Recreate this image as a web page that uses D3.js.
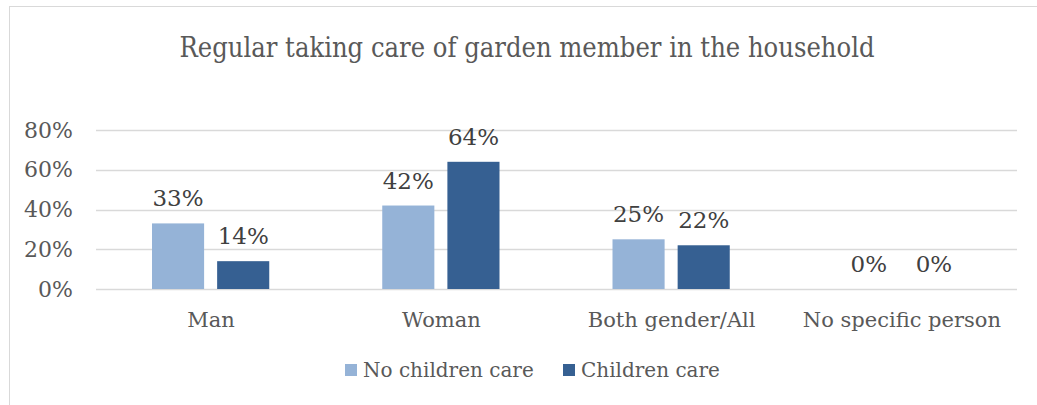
<!DOCTYPE html>
<html>
<head>
<meta charset="utf-8">
<script src="https://cdn.jsdelivr.net/npm/d3@7"></script>
<style>
  html, body { margin: 0; padding: 0; background: #fff; }
  svg { display: block; }
  text { font-family: "DejaVu Serif", serif; }
</style>
</head>
<body>
<svg id="chart" width="1037" height="405"></svg>
<script>
// Share of households, by who regularly takes care of the garden
const categories = ["Man", "Woman", "Both gender/All", "No specific person"];
const seriesNames = ["No children care", "Children care"];
const noChildrenCare = [0.33, 0.42, 0.25, 0.00];
const childrenCare = [0.14, 0.64, 0.22, 0.00];
const yTicks = [0, 0.2, 0.4, 0.6, 0.8];
const colors = ["#95b3d7", "#366092"];

const svg = d3.select("#chart");
const W = 1037, H = 405;
const margin = { left: 96, right: 20, top: 130, bottom: 116 };
const plotW = W - margin.left - margin.right;
const plotH = H - margin.top - margin.bottom;
const pct = d3.format(".0%");

// chart frame
svg.append("rect")
  .attr("x", 9.5).attr("y", 6.5)
  .attr("width", W + 10).attr("height", H + 10)
  .attr("fill", "#fff").attr("stroke", "#d9d9d9").attr("stroke-width", 1);

// title
svg.append("text")
  .attr("x", 527).attr("y", 57)
  .attr("text-anchor", "middle")
  .attr("textLength", 695).attr("lengthAdjust", "spacingAndGlyphs")
  .style("font-size", "27px")
  .attr("fill", "#595959")
  .text("Regular taking care of garden member in the household");

const g = svg.append("g").attr("transform", `translate(${margin.left},${margin.top})`);

const x0 = d3.scaleBand().domain(categories).range([0, plotW]).paddingInner(0).paddingOuter(0);
const x1 = d3.scaleBand().domain(seriesNames).range([56, x0.bandwidth() - 57]).paddingInner(0.2);
const y = d3.scaleLinear().domain([0, 0.8]).range([plotH, 0]);

// gridlines
g.append("g").selectAll("line").data(yTicks).join("line")
  .attr("x1", 0).attr("x2", plotW)
  .attr("y1", d => Math.round(y(d)) + 0.5).attr("y2", d => Math.round(y(d)) + 0.5)
  .attr("stroke", "#d9d9d9").attr("stroke-width", 1.5);

// y axis labels
const yAxis = d3.axisLeft(y).tickValues(yTicks).tickFormat(pct).tickSize(0).tickPadding(23);
const ya = g.append("g").call(yAxis);
ya.select(".domain").remove();
ya.selectAll("text")
  .style("font-family", "'DejaVu Serif', serif")
  .style("font-size", "22px").attr("fill", "#595959");

// x axis labels
const xAxis = d3.axisBottom(x0).tickSize(0).tickPadding(23);
const xa = g.append("g").attr("transform", `translate(0,${plotH})`).call(xAxis);
xa.select(".domain").remove();
xa.selectAll("text")
  .style("font-family", "'DejaVu Serif', serif")
  .style("font-size", "21px").attr("fill", "#595959");

const rows = categories.map((c, i) => ({ cat: c, vals: [noChildrenCare[i], childrenCare[i]] }));
const groups = g.selectAll(".grp").data(rows).join("g")
  .attr("class", "grp")
  .attr("transform", d => `translate(${x0(d.cat)},0)`);

groups.selectAll("rect").data(d => d.vals.map((v, k) => ({ v, k }))).join("rect")
  .attr("x", d => x1(seriesNames[d.k]))
  .attr("width", x1.bandwidth())
  .attr("y", d => y(d.v))
  .attr("height", d => plotH - y(d.v))
  .attr("fill", d => colors[d.k]);

// value labels above bars
groups.selectAll("text.val").data(d => d.vals.map((v, k) => ({ v, k }))).join("text")
  .attr("class", "val")
  .attr("x", d => x1(seriesNames[d.k]) + x1.bandwidth() / 2)
  .attr("y", d => y(d.v) - 17)
  .attr("text-anchor", "middle")
  .style("font-size", "23px")
  .attr("fill", "#404040")
  .text(d => pct(d.v));

// legend
const legend = svg.append("g").attr("transform", "translate(345,370)");
const legendX = [0, 218];
seriesNames.forEach((name, k) => {
  const lg = legend.append("g").attr("transform", `translate(${legendX[k]},0)`);
  lg.append("rect").attr("x", 0).attr("y", -6).attr("width", 12).attr("height", 12).attr("fill", colors[k]);
  lg.append("text").attr("x", 18).attr("y", 7)
    .style("font-size", "20px").attr("fill", "#595959").text(name);
});
</script>
</body>
</html>
